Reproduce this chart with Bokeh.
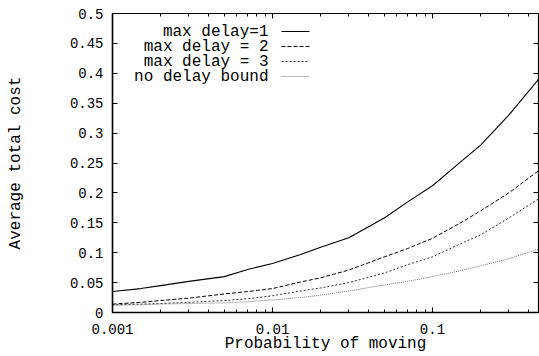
from bokeh.plotting import figure
from bokeh.models import (LogAxis, LinearAxis, FixedTicker, CustomJSTickFormatter,
                          Range1d, Label, Arrow, ColumnDataSource)
from bokeh.embed import file_html
from bokeh.resources import INLINE

prob = [0.001, 0.0015, 0.002, 0.003, 0.005, 0.007, 0.01, 0.015, 0.02, 0.03,
        0.05, 0.07, 0.1, 0.15, 0.2, 0.3, 0.46]
delay1 = [0.035, 0.040, 0.045, 0.052, 0.060, 0.072, 0.082, 0.097, 0.109, 0.125,
          0.158, 0.185, 0.212, 0.252, 0.280, 0.330, 0.390]
delay2 = [0.014, 0.017, 0.020, 0.024, 0.031, 0.035, 0.040, 0.051, 0.058, 0.071,
          0.093, 0.107, 0.124, 0.150, 0.170, 0.200, 0.237]
delay3 = [0.013, 0.014, 0.015, 0.017, 0.020, 0.023, 0.028, 0.036, 0.041, 0.050,
          0.066, 0.080, 0.093, 0.115, 0.130, 0.158, 0.190]
nobound = [0.012, 0.013, 0.014, 0.015, 0.016, 0.018, 0.021, 0.025, 0.029, 0.036,
           0.046, 0.052, 0.060, 0.070, 0.078, 0.090, 0.106]

series_labels = ["max delay=1", "max delay = 2", "max delay = 3", "no delay bound"]
x_ticks = [0.001, 0.01, 0.1]
x_minor = [m * d for d in (0.001, 0.01, 0.1) for m in range(2, 10) if m * d < 0.46]
y_ticks = [0, 0.05, 0.1, 0.15, 0.2, 0.25, 0.3, 0.35, 0.4, 0.45, 0.5]

FONT = "'Liberation Mono', 'Courier New', monospace"

p = figure(width=539, height=356, x_axis_type="log", output_backend="svg",
           toolbar_location=None, x_range=Range1d(0.001, 0.46),
           y_range=Range1d(0, 0.5),
           min_border_left=112, min_border_right=1, min_border_top=13,
           min_border_bottom=44)
p.xgrid.visible = False
p.ygrid.visible = False
p.outline_line_color = "black"
p.outline_line_width = 1.2
p.background_fill_color = "white"
p.border_fill_color = "white"

xfmt = CustomJSTickFormatter(code="return tick.toString();")
yfmt = CustomJSTickFormatter(code="return parseFloat(tick.toFixed(2)).toString();")
empty = CustomJSTickFormatter(code="return '';")

xa = p.xaxis[0]
xa.ticker = FixedTicker(ticks=x_ticks, minor_ticks=x_minor)
xa.formatter = xfmt
ya = p.yaxis[0]
ya.ticker = FixedTicker(ticks=y_ticks)
ya.formatter = yfmt

for ax in (xa, ya):
    ax.axis_line_color = "black"
    ax.axis_line_width = 1.5
    ax.major_tick_in = 5
    ax.major_tick_out = 0
    ax.minor_tick_in = 3
    ax.minor_tick_out = 0
    ax.major_tick_line_color = "black"
    ax.minor_tick_line_color = "black"
    ax.major_label_text_font = FONT
    ax.major_label_text_font_size = "14px"
    ax.major_label_text_color = "black"
    ax.axis_label_text_font = FONT
    ax.axis_label_text_font_size = "16px"
    ax.axis_label_text_font_style = "normal"
    ax.axis_label_text_color = "black"
ya.minor_tick_line_color = None
xa.axis_label = "Probability of moving"
ya.axis_label = "Average total cost"
xa.major_label_standoff = 11
xa.axis_label_standoff = -2
ya.major_label_standoff = 9
ya.axis_label_standoff = 42

top = LogAxis(ticker=FixedTicker(ticks=x_ticks, minor_ticks=x_minor), formatter=empty,
              major_tick_in=5, major_tick_out=0, minor_tick_in=3, minor_tick_out=0,
              axis_line_color="black", major_label_standoff=0,
              major_label_text_font_size="1px")
right = LinearAxis(ticker=FixedTicker(ticks=y_ticks), formatter=empty,
                   major_tick_in=5, major_tick_out=0, minor_tick_line_color=None,
                   axis_line_color="black", major_label_standoff=0,
                   major_label_text_font_size="1px")
p.add_layout(top, "above")
p.add_layout(right, "right")

src = ColumnDataSource(dict(prob=prob, d1=delay1, d2=delay2, d3=delay3, nb=nobound))
styles = [("d1", "solid", "black", 1.1),
          ("d2", "4 2", "black", 1.0),
          ("d3", "2 2", "#333333", 1.0),
          ("nb", "1 1", "#777777", 1.0)]
for (col, dash, color, w) in styles:
    p.line("prob", col, source=src, line_color=color, line_dash=dash, line_width=w)

# gnuplot-style key: right-aligned text, sample line to its right
for i, ((col, dash, color, w), lab) in enumerate(zip(styles, series_labels)):
    yy = 281 - 15 * i
    p.add_layout(Label(x=156, y=yy, x_units="screen", y_units="screen", text=lab,
                       text_align="right", text_baseline="middle",
                       text_font=FONT, text_font_size="16px", text_color="black"))
    p.add_layout(Arrow(x_start=169, y_start=yy, x_end=197, y_end=yy,
                       start_units="screen", end_units="screen", start=None, end=None,
                       line_color=color, line_dash=dash, line_width=w))

open("out.html", "w").write(file_html(p, INLINE))
